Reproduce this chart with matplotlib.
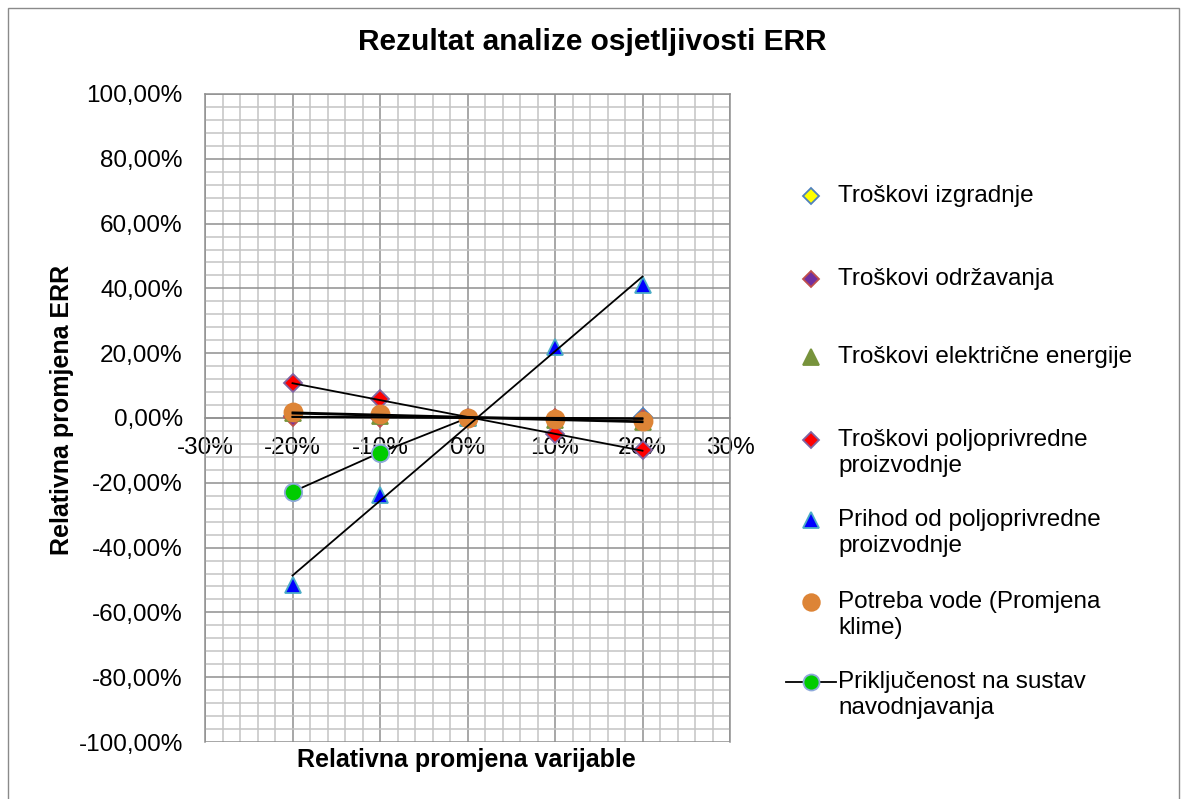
import numpy as np
import matplotlib.pyplot as plt
from matplotlib.lines import Line2D
from matplotlib.patches import Rectangle
from matplotlib.ticker import FuncFormatter, MultipleLocator

plt.rcParams['font.family'] = ['Liberation Sans', 'DejaVu Sans']

# relativna promjena varijable (%)
promjena = [-20, -10, 0, 10, 20]

nazivi = [
    'Troškovi izgradnje',
    'Troškovi održavanja',
    'Troškovi električne energije',
    'Troškovi poljoprivredne\nproizvodnje',
    'Prihod od poljoprivredne\nproizvodnje',
    'Potreba vode (Promjena\nklime)',
    'Priključenost na sustav\nnavodnjavanja',
]

# relativna promjena ERR (%)
izgradnja = [0.5, 0.3, 0.0, -0.2, 0.2]
odrzavanje = [0.3, 0.15, 0.0, -0.15, -0.3]
elektricna = [1.4, 0.7, 0.0, -0.6, -1.3]
troskovi_proizv = [10.7, 5.8, 0.0, -4.9, -10.0]
prihod_proizv = [-51.5, -23.8, 0.0, 21.9, 41.0]
potreba_vode = [1.8, 1.2, 0.0, -0.3, -0.9]
prikljucenost = [-22.8, -10.7, 0.0]

serije = [izgradnja, odrzavanje, elektricna, troskovi_proizv,
          prihod_proizv, potreba_vode, prikljucenost]

# marker, ispuna, rub, velicina
stilovi = [
    ('D', '#FFFF00', '#4F81BD', 9),
    ('D', '#7030A0', '#C0504D', 9),
    ('^', '#77933C', '#77933C', 12),
    ('D', '#FF0000', '#8064A2', 9),
    ('^', '#0000FF', '#4BACC6', 12),
    ('o', '#DD8436', '#DD8436', 13),
    ('o', '#00CC00', '#8EA9DB', 12.5),
]

W, H = 1184, 799
fig = plt.figure(figsize=(W / 100, H / 100), dpi=100)
ax = fig.add_axes([205 / W, 1 - 742 / H, (730 - 205) / W, (742 - 94) / H])

ax.set_xlim(-30, 30)
ax.set_ylim(-100, 100)
ax.xaxis.set_major_locator(MultipleLocator(10))
ax.xaxis.set_minor_locator(MultipleLocator(2))
ax.yaxis.set_major_locator(MultipleLocator(20))
ax.yaxis.set_minor_locator(MultipleLocator(4))
ax.set_axisbelow(True)
ax.grid(True, which='minor', color='#c4c4c4', lw=1.1)
ax.grid(True, which='major', color='#8f8f8f', lw=1.1)

for s in ax.spines.values():
    s.set_color('#8f8f8f')
    s.set_linewidth(1.1)
ax.spines['bottom'].set_position(('data', 0))

ax.xaxis.set_major_formatter(FuncFormatter(lambda v, _: f'{v:.0f}%'))
ax.yaxis.set_major_formatter(FuncFormatter(lambda v, _: f'{v:.2f}%'.replace('.', ',')))
ax.tick_params(which='both', length=0, labelsize=17.5)
ax.tick_params(axis='x', pad=14)
ax.tick_params(axis='y', pad=16)

# tocke i linearni trendovi
for i, (vals, (mk, fc, ec, ms)) in enumerate(zip(serije, stilovi)):
    xs = promjena[:len(vals)]
    if i == len(serije) - 1:
        ax.plot(xs, vals, color='black', lw=1.3, marker=mk, mfc=fc, mec=ec,
                ms=ms, mew=1.3, zorder=2.8)
        continue
    ax.plot(xs, vals, ls='none', marker=mk, mfc=fc, mec=ec, ms=ms, mew=1.3,
            zorder=3 + i * 0.1)
    k, n = np.polyfit(xs, vals, 1)
    ax.plot([xs[0], xs[-1]], [k * xs[0] + n, k * xs[-1] + n],
            color='black', lw=1.3, zorder=4)

# legenda
leg_y = [196, 279, 357, 440, 520, 602, 682]
for naziv, (mk, fc, ec, ms), y in zip(nazivi, stilovi, leg_y):
    fy = 1 - y / H
    if mk == 'o' and fc == '#00CC00':
        fig.add_artist(Line2D([786 / W, 836 / W], [fy, fy], color='black', lw=1.3,
                              transform=fig.transFigure))
    fig.add_artist(Line2D([811 / W], [fy], ls='none', marker=mk, mfc=fc, mec=ec,
                          ms=ms * 0.92, mew=1.3, transform=fig.transFigure))
    fig.text(838 / W, 1 - (y - 11) / H, naziv, fontsize=17.5, va='top', ha='left',
             linespacing=1.22)

fig.text(592 / W, 1 - 42 / H, 'Rezultat analize osjetljivosti ERR',
         fontsize=21.5, fontweight='bold', ha='center', va='center')
fig.text(466 / W, 1 - 760 / H, 'Relativna promjena varijable',
         fontsize=18, fontweight='bold', ha='center', va='center')
fig.text(62 / W, 1 - 410 / H, 'Relativna promjena ERR',
         fontsize=18, fontweight='bold', ha='center', va='center', rotation=90)

fig.add_artist(Rectangle((8 / W, -0.02), (1179 - 8) / W, 1.02 - 8 / H, fill=False,
                         edgecolor='#8a8a8a', lw=1.0, transform=fig.transFigure))

fig.savefig('out.png', dpi=100)
